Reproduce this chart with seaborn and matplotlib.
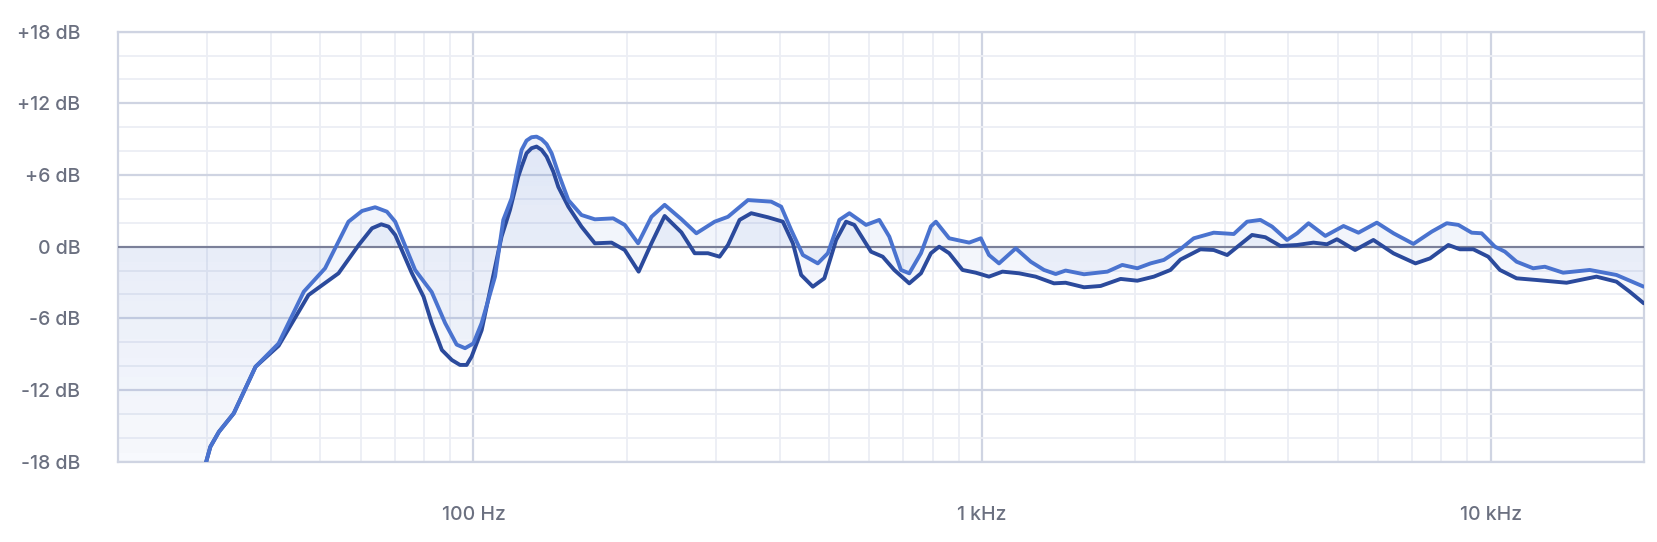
"""Frequency response of two measurements on a log frequency axis."""

import matplotlib

matplotlib.use("Agg")
import matplotlib.colors as mcolors
import matplotlib.pyplot as plt
import numpy as np
import pandas as pd
import seaborn as sns
from matplotlib.ticker import FixedLocator, LogLocator, NullFormatter


LIGHT_FREQ = [
    20, 29.7, 30.4, 31.6, 33.8, 37.3, 41.4, 46.4, 51.1, 56.8, 60.4, 64.1,
    67.6, 70.2, 76.8, 82.8, 88.0, 92.7, 96.3, 100, 103.8, 110.3, 114.5, 118.9,
    121.6, 124.4, 127.2, 130.1, 133.1, 136.2, 139.3, 142.5, 146.9, 153.7,
    163.1, 173.3, 188.3, 198.4, 210.8, 223.9, 237.7, 256.4, 274.4, 298.1,
    316.6, 346.6, 385.0, 402.8, 421.5, 444.4, 475.5, 497.6, 524.3, 548.6,
    591.5, 628.1, 657.2, 692.8, 719.4, 758.5, 793.5, 811.6, 861.8, 943.5,
    994.6, 1032, 1080, 1165, 1247, 1324, 1396, 1460, 1587, 1764, 1887, 2020,
    2145, 2278, 2456, 2608, 2855, 3126, 3320, 3526, 3718, 3978, 4164, 4385,
    4731, 5137, 5497, 5974, 6442, 7049, 7662, 8199, 8642, 9178, 9600, 10195,
    10668, 11246, 12122, 12782, 13886, 15662, 17675, 20000,
]
LIGHT_DB = [
    -30, -18.3, -16.75, -15.5, -13.95, -10.05, -8.1, -3.77, -1.81, 2.09, 2.99,
    3.3, 2.93, 2.09, -1.95, -3.8, -6.4, -8.2, -8.5, -8.1, -6.4, -2.5, 2.24,
    4.05, 6.15, 8.1, 8.88, 9.16, 9.21, 8.99, 8.58, 7.82, 6.15, 3.9, 2.65,
    2.29, 2.37, 1.82, 0.28, 2.5, 3.5, 2.3, 1.12, 2.09, 2.5, 3.9, 3.77, 3.35,
    1.4, -0.7, -1.4, -0.55, 2.24, 2.8, 1.82, 2.24, 0.84, -1.95, -2.23, -0.55,
    1.7, 2.09, 0.7, 0.34, 0.7, -0.7, -1.4, -0.14, -1.26, -1.95, -2.29, -2.0,
    -2.31, -2.09, -1.53, -1.81, -1.4, -1.11, -0.2, 0.7, 1.17, 1.06, 2.09, 2.24,
    1.68, 0.56, 1.12, 1.96, 0.9, 1.73, 1.17, 2.01, 1.12, 0.23, 1.26, 1.96,
    1.82, 1.17, 1.12, 0, -0.42, -1.26, -1.81, -1.68, -2.18, -1.95, -2.37,
    -3.35,
]
DARK_FREQ = [
    20, 29.7, 30.4, 31.6, 33.8, 37.3, 41.4, 47.4, 54.3, 59.5, 63.2, 65.9,
    68.1, 70.2, 75.7, 79.8, 82.8, 86.7, 90.7, 94.1, 97.0, 99.2, 103.8, 108.6,
    113.6, 118.0, 122.5, 124.4, 127.2, 130.1, 133.1, 136.2, 139.3, 143.6,
    146.9, 153.7, 163.1, 173.3, 186.9, 198.4, 211.3, 223.9, 237.7, 256.4,
    272.3, 289.2, 304.8, 316.6, 333.7, 351.8, 379.3, 405.9, 424.8, 441.0,
    464.9, 489.8, 516.6, 540.4, 561.0, 605.0, 637.9, 672.2, 719.4, 758.5,
    793.5, 823.8, 861.8, 915.7, 972.3, 1032, 1097, 1183, 1275, 1385, 1460,
    1587, 1711, 1873, 2020, 2177, 2347, 2456, 2688, 2855, 3034, 3396, 3606,
    3860, 4164, 4486, 4767, 4987, 5414, 5882, 6442, 7116, 7602, 8258, 8703,
    9245, 9892, 10430, 11246, 12311, 14103, 16144, 17675, 18770, 20000,
]
DARK_DB = [
    -30, -18.3, -16.75, -15.5, -13.95, -10.05, -8.3, -4.05, -2.23, 0.14, 1.54,
    1.87, 1.68, 0.98, -2.23, -4.19, -6.4, -8.65, -9.49, -9.9, -9.9, -9.2,
    -7.0, -3.07, 0.84, 3.07, 5.86, 6.7, 7.82, 8.24, 8.38, 8.1, 7.54, 6.28,
    5.0, 3.35, 1.68, 0.28, 0.34, -0.28, -2.09, 0.28, 2.57, 1.2, -0.55, -0.55,
    -0.84, 0.14, 2.24, 2.8, 2.46, 2.09, 0.28, -2.37, -3.35, -2.65, 0.56, 2.09,
    1.82, -0.42, -0.84, -1.95, -3.07, -2.23, -0.55, 0, -0.55, -1.95, -2.18,
    -2.51, -2.09, -2.23, -2.51, -3.07, -3.02, -3.4, -3.29, -2.7, -2.85, -2.51,
    -1.95, -1.08, -0.22, -0.28, -0.7, 0.98, 0.79, 0.06, 0.14, 0.34, 0.2, 0.62,
    -0.28, 0.56, -0.56, -1.4, -0.98, 0.14, -0.22, -0.22, -0.84, -1.95, -2.65,
    -2.79, -3.02, -2.51, -2.93, -3.77, -4.74,
]

SERIES = ["Measurement B", "Measurement A"]
COLORS = {"Measurement A": "#4a73cf", "Measurement B": "#2b4a9c"}
FILL_COLOR = "#4a73cf"

Y_TICKS = [18, 12, 6, 0, -6, -12, -18]
Y_LABELS = ["+18 dB", "+12 dB", "+6 dB", "0 dB", "-6 dB", "-12 dB", "-18 dB"]
X_TICKS = [100, 1000, 10000]
X_LABELS = ["100 Hz", "1 kHz", "10 kHz"]
F_MIN, F_MAX = 20, 20000
DB_MIN, DB_MAX = -18, 18

MAJOR_GRID = "#cfd4e2"
MINOR_GRID = "#eceef4"
ZERO_LINE = "#7b8099"
LABEL_COLOR = "#6b7080"


def gradient_fill(ax, freq, db):
    """Fill between a curve and 0 dB with a fill that fades downwards."""
    poly = ax.fill_between(freq, db, 0, facecolor="none", edgecolor="none")
    rgba = np.zeros((256, 1, 4))
    rgba[..., :3] = mcolors.to_rgb(FILL_COLOR)
    rgba[..., 3] = np.linspace(0.11, 0.022, 256)[:, None]
    image = ax.imshow(
        rgba,
        extent=[F_MIN, F_MAX, DB_MIN, DB_MAX],
        origin="upper",
        aspect="auto",
        interpolation="bilinear",
        zorder=1,
    )
    image.set_clip_path(poly.get_paths()[0], transform=ax.transData)


def main():
    sns.set_theme(style="white")
    plt.rcParams["font.family"] = ["Inter", "DejaVu Sans"]

    curves = pd.concat(
        [
            pd.DataFrame({"freq": DARK_FREQ, "db": DARK_DB, "series": SERIES[0]}),
            pd.DataFrame({"freq": LIGHT_FREQ, "db": LIGHT_DB, "series": SERIES[1]}),
        ],
        ignore_index=True,
    )

    figure = plt.figure(figsize=(16.58, 5.42), dpi=100)
    ax = figure.add_axes([0.0711, 0.1482, 0.9203, 0.7934])
    ax.set_xscale("log")

    gradient_fill(ax, DARK_FREQ, DARK_DB)
    gradient_fill(ax, LIGHT_FREQ, LIGHT_DB)

    sns.lineplot(
        data=curves,
        x="freq",
        y="db",
        hue="series",
        hue_order=SERIES,
        palette=COLORS,
        estimator=None,
        sort=False,
        linewidth=2.8,
        legend=False,
        solid_joinstyle="round",
        solid_capstyle="round",
        zorder=4,
        ax=ax,
    )
    ax.axhline(0, color=ZERO_LINE, linewidth=1.5, zorder=3)

    ax.set_xlim(F_MIN, F_MAX)
    ax.set_ylim(DB_MIN, DB_MAX)
    ax.xaxis.set_major_locator(FixedLocator(X_TICKS))
    ax.set_xticklabels(X_LABELS)
    ax.xaxis.set_minor_locator(LogLocator(base=10, subs=np.arange(2, 10)))
    ax.xaxis.set_minor_formatter(NullFormatter())
    ax.set_yticks(Y_TICKS)
    ax.set_yticklabels(Y_LABELS)
    ax.yaxis.set_minor_locator(FixedLocator(range(DB_MIN, DB_MAX + 1, 2)))

    ax.grid(which="major", color=MAJOR_GRID, linewidth=1.6, zorder=0)
    ax.grid(which="minor", color=MINOR_GRID, linewidth=1.3, zorder=0)
    ax.set_axisbelow(True)
    for spine in ax.spines.values():
        spine.set_color(MAJOR_GRID)
        spine.set_linewidth(1.6)

    ax.tick_params(axis="both", which="both", length=0)
    ax.tick_params(axis="y", pad=27, labelsize=14, labelcolor=LABEL_COLOR)
    ax.tick_params(axis="x", pad=32, labelsize=14, labelcolor=LABEL_COLOR)
    for label in ax.get_xticklabels() + ax.get_yticklabels():
        label.set_fontweight("medium")
    ax.set_xlabel("")
    ax.set_ylabel("")

    figure.savefig("out.png", dpi=100)
    plt.close(figure)


if __name__ == "__main__":
    main()
